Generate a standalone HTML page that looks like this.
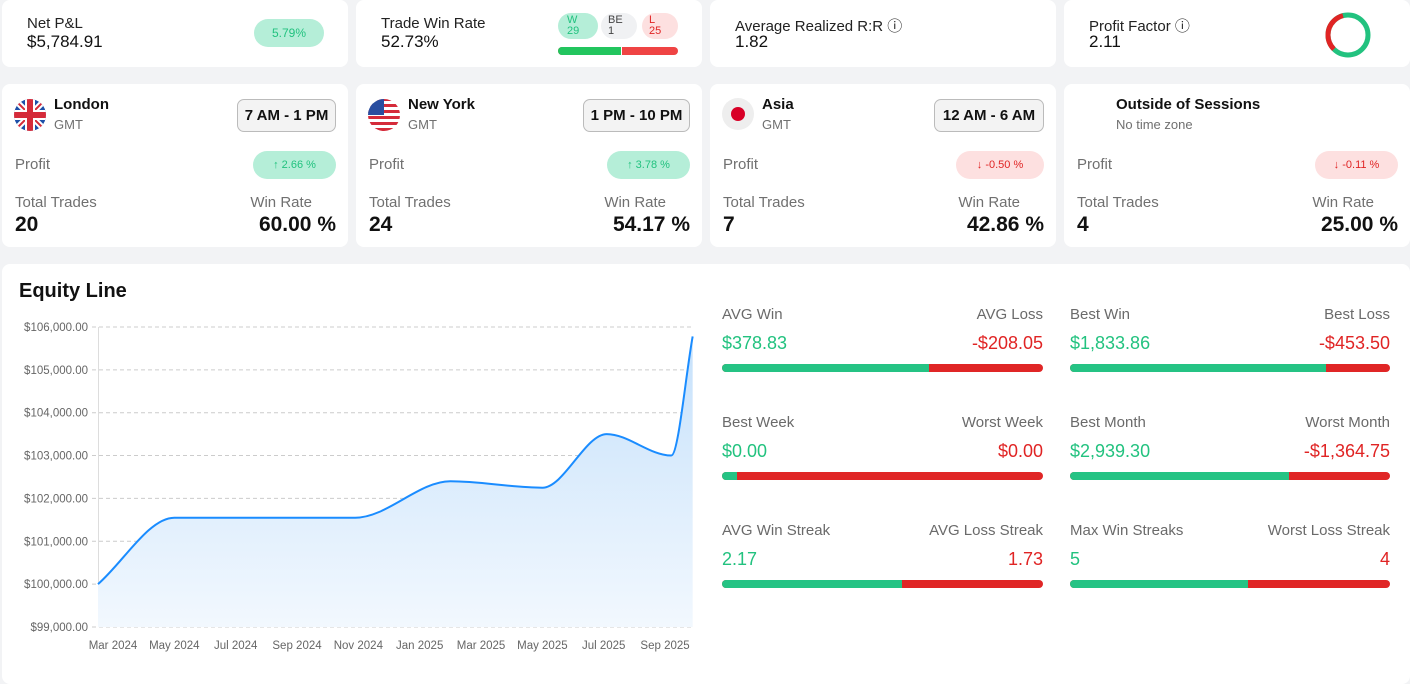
<!DOCTYPE html>
<html><head><meta charset="utf-8">
<style>
*{box-sizing:border-box;margin:0;padding:0}
body{width:1410px;height:670px;background:#f2f3f5;font-family:"Liberation Sans",sans-serif;position:relative;overflow:hidden;color:#111}
.card{position:absolute;background:#fff;border-radius:8px}
.abs{position:absolute}
.lbl{font-size:15px;color:#222}
.big{font-size:17px;color:#111;font-weight:500}
.pill{position:absolute;border-radius:14px;font-size:12px;text-align:center}
.g{color:#22c27f}.r{color:#e02424}
.gray{color:#707070}
.time{position:absolute;top:15px;height:33px;border:1px solid #bbb;background:#f3f3f3;border-radius:7px;font-size:15px;font-weight:bold;line-height:31px;text-align:center}
.bar{position:absolute;height:8px;border-radius:4px;background:#e02626;overflow:hidden}
.bar i{display:block;height:8px;background:#25c384}
.sl{font-size:15px;color:#6a6a6a;position:absolute}
.sv{font-size:18px;position:absolute}
</style></head><body>
<!-- row 1 -->
<div class="card" style="left:2px;top:0;width:346px;height:67px">
 <div class="abs lbl" style="left:25px;top:15px">Net P&amp;L</div>
 <div class="abs big" style="left:25px;top:32px">$5,784.91</div>
 <div class="pill g" style="left:252px;top:19px;width:70px;height:28px;line-height:28px;background:#b5eed8">5.79%</div>
</div>
<div class="card" style="left:356px;top:0;width:346px;height:67px">
 <div class="abs lbl" style="left:25px;top:15px">Trade Win Rate</div>
 <div class="abs big" style="left:25px;top:32px">52.73%</div>
 <div class="pill" style="left:202px;top:13px;width:40px;height:26px;background:#b5eed8;color:#22c27f;font-size:11px;line-height:11px;text-align:left;padding:2px 0 0 9px">W<br>29</div>
 <div class="pill" style="left:245px;top:13px;width:36px;height:26px;background:#f0f1f3;color:#444;font-size:11px;line-height:11px;text-align:left;padding:2px 0 0 7px">BE<br>1</div>
 <div class="pill" style="left:286px;top:13px;width:36px;height:26px;background:#fde0e0;color:#e02424;font-size:11px;line-height:11px;text-align:left;padding:2px 0 0 7px">L<br>25</div>
 <div class="abs" style="left:202px;top:47px;width:120px;height:8px;border-radius:4px;overflow:hidden;background:#ef4444"><div style="width:64px;height:8px;background:#22c55e;border-right:1px solid #fff"></div></div>
</div>
<div class="card" style="left:710px;top:0;width:346px;height:67px">
 <div class="abs lbl" style="left:25px;top:15px">Average Realized R:R ⓘ</div>
 <div class="abs big" style="left:25px;top:32px">1.82</div>
</div>
<div class="card" style="left:1064px;top:0;width:346px;height:67px">
 <div class="abs lbl" style="left:25px;top:15px">Profit Factor ⓘ</div>
 <div class="abs big" style="left:25px;top:32px">2.11</div>
 <svg class="abs" style="left:259px;top:10px" width="50" height="50">
  <circle cx="25" cy="25" r="20" fill="none" stroke="#22c27f" stroke-width="5"/>
  <circle cx="25" cy="25" r="20" fill="none" stroke="#e02424" stroke-width="5" stroke-dasharray="42 200" transform="rotate(135 25 25)"/>
 </svg>
</div>
<!-- row 2 -->
<div class="card" style="left:2px;top:84px;width:346px;height:163px">
 <svg class="abs" style="left:11px;top:14px" width="34" height="34"><clipPath id="c1"><circle cx="17" cy="17" r="16"/></clipPath><g clip-path="url(#c1)"><rect width="34" height="34" fill="#1d4fa8"/><path d="M0 0L34 34M34 0L0 34" stroke="#fff" stroke-width="6"/><path d="M0 0L34 34M34 0L0 34" stroke="#d52b3a" stroke-width="2"/><rect x="12" width="10" height="34" fill="#fff"/><rect y="12" width="34" height="10" fill="#fff"/><rect x="14" width="6" height="34" fill="#d52b3a"/><rect y="14" width="34" height="6" fill="#d52b3a"/></g></svg>
 <div class="abs" style="left:52px;top:12px;font-size:15px;font-weight:bold">London</div>
 <div class="abs gray" style="left:52px;top:33px;font-size:13px">GMT</div>
 <div class="time" style="left:235px;width:99px">7 AM - 1 PM</div>
 <div class="abs gray" style="left:13px;top:72px;font-size:15px">Profit</div>
 <div class="pill g" style="left:251px;top:67px;width:83px;height:28px;line-height:28px;background:#b5eed8;font-size:11px">↑ 2.66 %</div>
 <div class="abs gray" style="left:13px;top:110px;font-size:15px">Total Trades</div>
 <div class="abs" style="left:13px;top:129px;font-size:21px;font-weight:bold">20</div>
 <div class="abs gray" style="right:36px;top:110px;font-size:15px">Win Rate</div>
 <div class="abs" style="right:12px;top:129px;font-size:21px;font-weight:bold">60.00 %</div>
</div>
<div class="card" style="left:356px;top:84px;width:346px;height:163px">
 <svg class="abs" style="left:11px;top:14px" width="34" height="34"><clipPath id="c2"><circle cx="17" cy="17" r="16"/></clipPath><g clip-path="url(#c2)"><rect width="34" height="34" fill="#fff"/><rect y="0" width="34" height="3" fill="#d52b3a"/><rect y="6" width="34" height="3" fill="#d52b3a"/><rect y="12" width="34" height="3" fill="#d52b3a"/><rect y="18" width="34" height="3" fill="#d52b3a"/><rect y="24" width="34" height="3" fill="#d52b3a"/><rect y="30" width="34" height="4" fill="#d52b3a"/><rect width="17" height="17" fill="#2a4ea0"/></g></svg>
 <div class="abs" style="left:52px;top:12px;font-size:15px;font-weight:bold">New York</div>
 <div class="abs gray" style="left:52px;top:33px;font-size:13px">GMT</div>
 <div class="time" style="left:227px;width:107px">1 PM - 10 PM</div>
 <div class="abs gray" style="left:13px;top:72px;font-size:15px">Profit</div>
 <div class="pill g" style="left:251px;top:67px;width:83px;height:28px;line-height:28px;background:#b5eed8;font-size:11px">↑ 3.78 %</div>
 <div class="abs gray" style="left:13px;top:110px;font-size:15px">Total Trades</div>
 <div class="abs" style="left:13px;top:129px;font-size:21px;font-weight:bold">24</div>
 <div class="abs gray" style="right:36px;top:110px;font-size:15px">Win Rate</div>
 <div class="abs" style="right:12px;top:129px;font-size:21px;font-weight:bold">54.17 %</div>
</div>
<div class="card" style="left:710px;top:84px;width:346px;height:163px">
 <div class="abs" style="left:12px;top:14px;width:32px;height:32px;border-radius:50%;background:#eee"><div style="margin:9px;width:14px;height:14px;border-radius:50%;background:#d80027"></div></div>
 <div class="abs" style="left:52px;top:12px;font-size:15px;font-weight:bold">Asia</div>
 <div class="abs gray" style="left:52px;top:33px;font-size:13px">GMT</div>
 <div class="time" style="left:224px;width:110px">12 AM - 6 AM</div>
 <div class="abs gray" style="left:13px;top:72px;font-size:15px">Profit</div>
 <div class="pill r" style="left:246px;top:67px;width:88px;height:28px;line-height:28px;background:#fde0e0;font-size:11px">↓ -0.50 %</div>
 <div class="abs gray" style="left:13px;top:110px;font-size:15px">Total Trades</div>
 <div class="abs" style="left:13px;top:129px;font-size:21px;font-weight:bold">7</div>
 <div class="abs gray" style="right:36px;top:110px;font-size:15px">Win Rate</div>
 <div class="abs" style="right:12px;top:129px;font-size:21px;font-weight:bold">42.86 %</div>
</div>
<div class="card" style="left:1064px;top:84px;width:346px;height:163px">
 <div class="abs" style="left:52px;top:12px;font-size:15px;font-weight:bold">Outside of Sessions</div>
 <div class="abs gray" style="left:52px;top:33px;font-size:13px">No time zone</div>
 <div class="abs gray" style="left:13px;top:72px;font-size:15px">Profit</div>
 <div class="pill r" style="left:251px;top:67px;width:83px;height:28px;line-height:28px;background:#fde0e0;font-size:11px">↓ -0.11 %</div>
 <div class="abs gray" style="left:13px;top:110px;font-size:15px">Total Trades</div>
 <div class="abs" style="left:13px;top:129px;font-size:21px;font-weight:bold">4</div>
 <div class="abs gray" style="right:36px;top:110px;font-size:15px">Win Rate</div>
 <div class="abs" style="right:12px;top:129px;font-size:21px;font-weight:bold">25.00 %</div>
</div>
<!-- row 3 -->
<div class="card" style="left:2px;top:264px;width:1408px;height:420px">
 <div class="abs" style="left:17px;top:16px;font-size:20px;font-weight:bold">Equity Line</div>
</div>
<svg class="abs" id="chart" style="left:0;top:0" width="710" height="670">
 <defs><linearGradient id="fill" x1="0" y1="0" x2="0" y2="1"><stop offset="0" stop-color="#c6e1fb"/><stop offset="1" stop-color="#f2f8fe"/></linearGradient></defs>
</svg>
<div id="stats"></div>
<script>
const ticks=[99000,100000,101000,102000,103000,104000,105000,106000];
const xLabels=["Mar 2024","May 2024","Jul 2024","Sep 2024","Nov 2024","Jan 2025","Mar 2025","May 2025","Jul 2025","Sep 2025"];
const xLabelMonths=[0,2,4,6,8,10,12,14,16,18];
const months=[-0.5,2,4,6,7.9,11,14,16.1,18.2,18.9];
const equity=[100000,101550,101550,101550,101550,102400,102250,103500,103000,105780];
const NS="http://www.w3.org/2000/svg";
const svg=document.getElementById('chart');
const X=m=>113+(m)*30.67, Y=v=>627-(v-99000)*0.04286;
function mk(t,a,parent){const e=document.createElementNS(NS,t);for(const k in a)e.setAttribute(k,a[k]);(parent||svg).appendChild(e);return e;}
ticks.forEach(v=>{
 const l=mk('line',{x1:92,x2:693,y1:Y(v),y2:Y(v),stroke:'#ccc','stroke-dasharray':'4 3'});
 
 
 const t=mk('text',{x:88,y:Y(v)+4,'text-anchor':'end','font-size':11.5,fill:'#666','font-family':'Liberation Sans'});
 t.textContent='$'+v.toLocaleString('en-US')+'.00';
 
 
});
const ax=mk('line',{x1:98.5,x2:98.5,y1:327,y2:627,stroke:'#ddd'});


xLabels.forEach((s,i)=>{
 const t=mk('text',{x:X(xLabelMonths[i]),y:649,'text-anchor':'middle','font-size':11.5,fill:'#666','font-family':'Liberation Sans'});
 t.textContent=s;
 
 
});
const P=months.map((m,i)=>[Math.max(98,Math.min(693,X(m))),Y(equity[i])]);
const n=P.length,d=[],mm=[];
for(let i=0;i<n-1;i++)d.push((P[i+1][1]-P[i][1])/(P[i+1][0]-P[i][0]));
for(let i=0;i<n;i++){if(i==0)mm.push(d[0]);else if(i==n-1)mm.push(d[n-2]);else mm.push(d[i-1]*d[i]<=0?0:(d[i-1]+d[i])/2);}
let path='M'+P[0][0]+','+P[0][1];
for(let i=0;i<n-1;i++){const h=(P[i+1][0]-P[i][0])/3;path+=` C${P[i][0]+h},${P[i][1]+mm[i]*h} ${P[i+1][0]-h},${P[i+1][1]-mm[i+1]*h} ${P[i+1][0]},${P[i+1][1]}`;}
const area=mk('path',{d:path+` L${P[n-1][0]},627 L${P[0][0]},627 Z`,fill:'url(#fill)'});


const line=mk('path',{d:path,fill:'none',stroke:'#1a8cff','stroke-width':2});



const statLabels=[["AVG Win","AVG Loss"],["Best Win","Best Loss"],["Best Week","Worst Week"],["Best Month","Worst Month"],["AVG Win Streak","AVG Loss Streak"],["Max Win Streaks","Worst Loss Streak"]];
const statValues=[["$378.83","-$208.05"],["$1,833.86","-$453.50"],["$0.00","$0.00"],["$2,939.30","-$1,364.75"],["2.17","1.73"],["5","4"]];
const statShares=[0.645,0.80,0.047,0.685,0.56,0.555];
const st=document.getElementById('stats');
statLabels.forEach((lb,i)=>{
 const x=i%2?1070:722, y=306+Math.floor(i/2)*108, w=i%2?320:321;
 const g=document.createElement('div');g.className='abs';g.style.cssText=`left:${x}px;top:${y}px;width:${w}px;height:70px`;
 
 
 g.innerHTML=`<div class="sl" style="left:0;top:0">${lb[0]}</div><div class="sl" style="right:0;top:0">${lb[1]}</div>
 <div class="sv g" style="left:0;top:27px">${statValues[i][0]}</div><div class="sv r" style="right:0;top:27px">${statValues[i][1]}</div>
 <div class="bar" style="left:0;top:58px;width:${w}px"><i style="width:${statShares[i]*100}%"></i></div>`;
 st.appendChild(g);
});
</script>
</body></html>
